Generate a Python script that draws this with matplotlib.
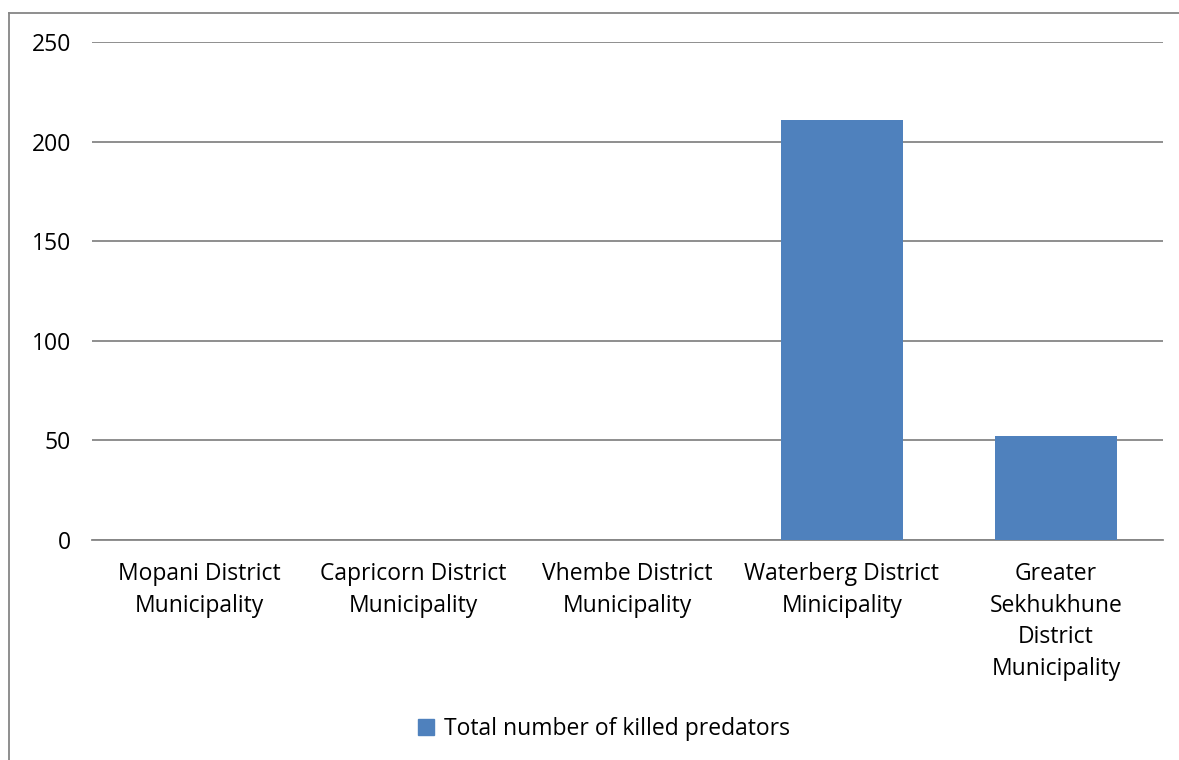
import matplotlib.pyplot as plt
from matplotlib.patches import Patch
from matplotlib.lines import Line2D

plt.rcParams['font.family'] = ['Open Sans', 'DejaVu Sans']

# data
districts = ['Mopani District\nMunicipality', 'Capricorn District\nMunicipality',
             'Vhembe District\nMunicipality', 'Waterberg District\nMinicipality',
             'Greater\nSekhukhune\nDistrict\nMunicipality']
killed = [0, 0, 0, 211, 52]
yticks = [0, 50, 100, 150, 200, 250]
series_name = 'Total number of killed predators'

bar_color = '#4f81bd'
grid_color = '#868686'
fs = 16.5

fig = plt.figure(figsize=(11.79, 7.6), dpi=100)
ax = fig.add_axes([92 / 1179, 1 - 540 / 760, (1163 - 92) / 1179, 498 / 760])

x = range(len(districts))
ax.bar(x, killed, width=0.57, color=bar_color, zorder=3)

ax.set_xlim(-0.5, len(districts) - 0.5)
ax.set_ylim(0, 250)
ax.set_yticks(yticks)
ax.set_xticks(list(x))
ax.set_xticklabels(districts, fontsize=fs, linespacing=1.42)
ax.tick_params(axis='y', labelsize=fs, length=0, pad=15)
ax.tick_params(axis='x', length=0, pad=16)
ax.grid(axis='y', color=grid_color, linewidth=1.3, zorder=0)
for s in ['top', 'right', 'left']:
    ax.spines[s].set_visible(False)
ax.spines['bottom'].set_color(grid_color)
ax.spines['bottom'].set_linewidth(1.3)

# outer chart frame (left and top edges visible)
fig.add_artist(Line2D([8.5 / 1179, 8.5 / 1179], [0, 1 - 13 / 760], color=grid_color,
                      linewidth=1.3, transform=fig.transFigure))
fig.add_artist(Line2D([8.5 / 1179, 1], [1 - 13 / 760, 1 - 13 / 760], color=grid_color,
                      linewidth=1.3, transform=fig.transFigure))

fig.legend(handles=[Patch(color=bar_color, label=series_name)], loc='center',
           bbox_to_anchor=(604 / 1179, 1 - 729 / 760), frameon=False, fontsize=fs,
           handlelength=0.7, handleheight=0.7, handletextpad=0.4)

fig.savefig('out.png', dpi=100)
